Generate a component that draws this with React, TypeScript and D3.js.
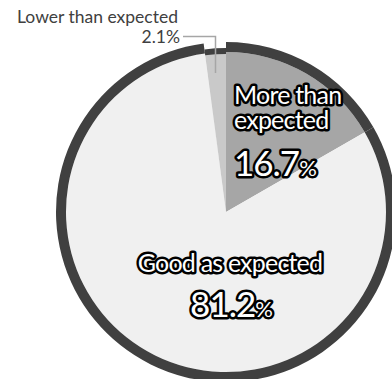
import React from "react";
import * as d3 from "d3";

const categories = ["More than expected", "Good as expected", "Lower than expected"];
const values = [16.7, 81.2, 2.1];
const valueLabels = ["16.7", "81.2", "2.1"];
const fills = ["#a6a6a6", "#f0f0f0", "#c9c9c9"];
const ringColor = "#404040";

const W = 392;
const H = 379;
const cx = 226;
const cy = 212;
const rFill = 160;
const rOuter = 170;

const FONT = "Lato, 'Open Sans', sans-serif";

export default function App() {
  const pie = d3.pie<number>().sort(null).value((d) => d).startAngle(0).endAngle(2 * Math.PI);
  const arcs = pie(values);
  const fillArc = d3.arc<d3.PieArcDatum<number>>().innerRadius(0).outerRadius(rFill);
  const ringArc = d3.arc<d3.PieArcDatum<number>>();

  const outline = {
    fill: "#ffffff",
    stroke: "#000000",
    strokeWidth: 5,
    strokeLinejoin: "round" as const,
    paintOrder: "stroke",
  };

  return (
    <svg
      width={W}
      height={H}
      style={{ position: "absolute", left: 0, top: 0, display: "block" }}
      fontFamily={FONT}
    >
      <rect width={W} height={H} fill="#ffffff" />
      <g transform={`translate(${cx},${cy})`}>
        {arcs.map((a, i) => (
          <path key={`f${i}`} d={fillArc(a) || ""} fill={fills[i]} />
        ))}
        {arcs.map((a, i) => {
          const small = i === 2;
          const d = ringArc({
            ...a,
            innerRadius: small ? 158 : rFill,
            outerRadius: small ? 164 : rOuter,
          } as any);
          return <path key={`r${i}`} d={d || ""} fill={ringColor} />;
        })}
      </g>

      {/* More than expected */}
      <text x={234} y={104} fontSize={25} letterSpacing={-0.8} style={outline}>
        <tspan x={234} y={104}>More than</tspan>
        <tspan x={234} y={129}>expected</tspan>
      </text>
      <text x={234} y={176} fontSize={35} letterSpacing={-1} style={outline}>
        {valueLabels[0]}
        <tspan fontSize={22}>%</tspan>
      </text>

      {/* Good as expected */}
      <text x={230} y={272} fontSize={25} letterSpacing={-0.8} textAnchor="middle" style={outline}>
        {categories[1]}
      </text>
      <text x={231} y={317} fontSize={35} letterSpacing={-1} textAnchor="middle" style={outline}>
        {valueLabels[1]}
        <tspan fontSize={22}>%</tspan>
      </text>

      {/* Lower than expected */}
      <text x={17} y={23} fontSize={17.5} fill="#404040">
        {categories[2]}
      </text>
      <text x={180} y={43} fontSize={17.5} fill="#404040" textAnchor="end">
        {valueLabels[2]}%
      </text>
      <polyline
        points="183,36.5 215.5,36.5 215.5,73"
        fill="none"
        stroke="#a6a6a6"
        strokeWidth={1.5}
      />
    </svg>
  );
}
